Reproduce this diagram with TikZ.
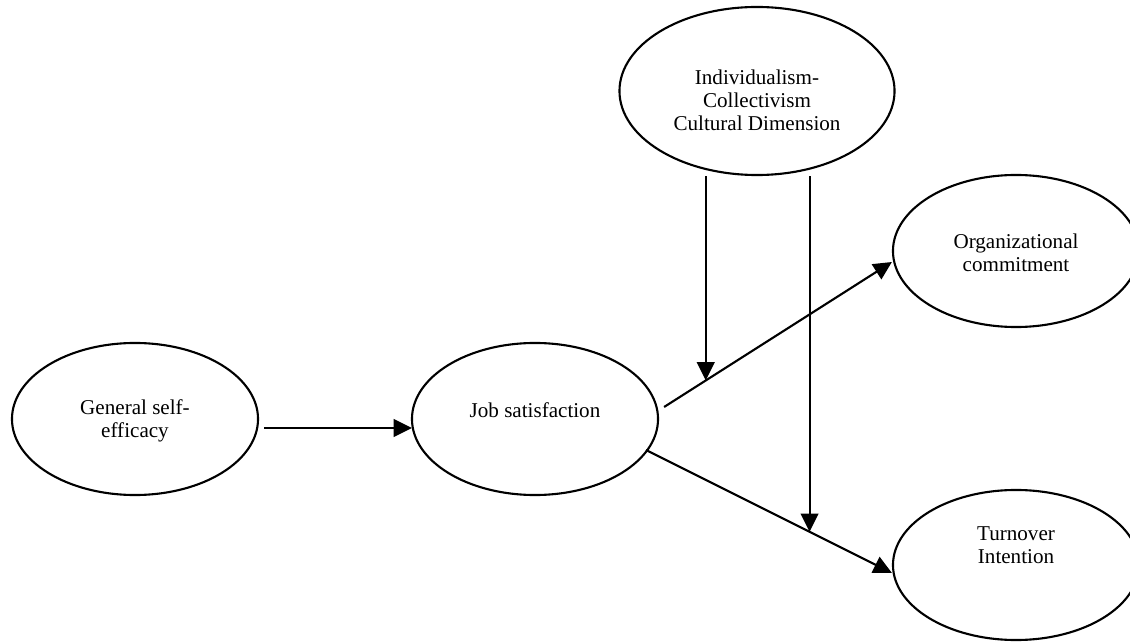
\documentclass[tikz,border=0pt]{standalone}
\usepackage{fontspec}
\setmainfont{Liberation Serif}
\usetikzlibrary{arrows.meta,calc,shapes.geometric}

\begin{document}
\begin{tikzpicture}[x=0.025cm,y=-0.025cm]
% Model style
\tikzset{
    construct/.style={draw, ellipse, line width=1.5pt, inner sep=0pt,
        minimum width=6.15cm, minimum height=3.8cm},
    caption/.style={align=center, inner sep=0pt,
        font=\fontsize{15}{16.4}\selectfont},
    link/.style={line width=1.5pt, -{Triangle[length=13pt,width=12.5pt]}}
}
\useasboundingbox (0,0) rectangle (1130,642);
% Constructs
\node[construct] (Gse) at (135,419) {};
\node[construct] (Jsat) at (535,419) {};
\node[construct, minimum width=6.875cm, minimum height=4.2cm] (Indcol) at (757,91) {};
\node[construct] (Ocom) at (1016,251) {};
\node[construct, minimum height=3.75cm] (Tint) at (1016,565) {};
% Texts
\node[caption] (GseT) at (135,421) {General self-\\efficacy};
\node[caption] (JsatT) at (535,410) {Job satisfaction};
\node[caption] (IndcolT) at (757,100) {Individualism-\\Collectivism\\Cultural Dimension};
\node[caption] (OcomT) at (1016,253) {Organizational\\commitment};
\node[caption] (TintT) at (1016,545) {Turnover\\Intention};
% Paths
\coordinate (JsA) at ($(Jsat.east)+(5,-12)$);
\coordinate (JsB) at ($(Jsat.east)+(-13,31)$);
\coordinate (OcIn) at ($(Ocom.west)+(0,11)$);
\coordinate (TiIn) at ($(Tint.west)+(0,8)$);
\draw[link] ($(Gse.east)+(5,9)$) -- ($(Jsat.west)+(1,9)$);
\draw[link] (JsA) -- (OcIn);
\draw[link] (JsB) -- (TiIn);
% Moderation
\coordinate (Mod1) at ($(JsA)!0.183!(OcIn)$);
\coordinate (Mod2) at ($(JsB)!0.665!(TiIn)$);
\draw[link] (Mod1 |- Indcol.south) -- (Mod1);
\draw[link] (Mod2 |- Indcol.south) -- (Mod2);
\end{tikzpicture}
\end{document}
